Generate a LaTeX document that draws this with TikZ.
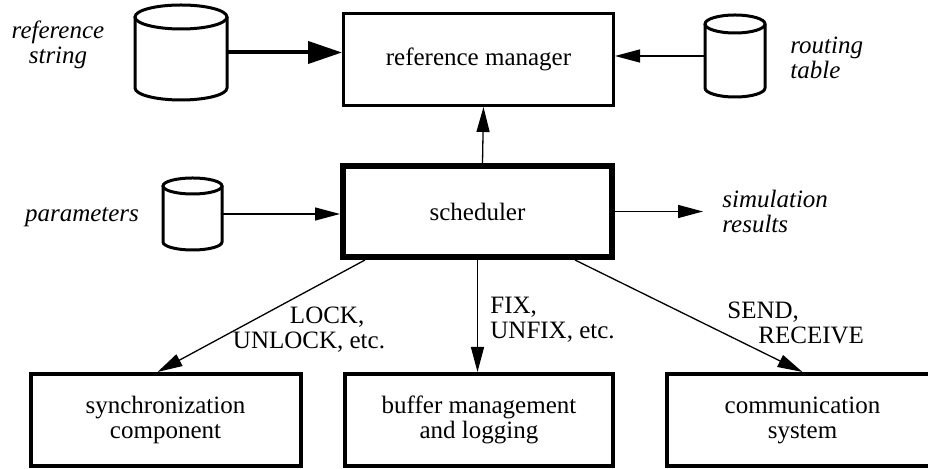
\documentclass[tikz,border=0pt]{standalone}
\usepackage{fontspec}
\setmainfont{Liberation Serif}
\usetikzlibrary{arrows.meta}

\newcommand{\fs}{\fontsize{12.5}{12.5}\selectfont}

% data store: name, centre x, centre y, width, height, half height of the ellipse
\newcommand{\datastore}[6]{%
  \node[inner sep=0pt,outer sep=0pt,minimum width=#4*0.5pt,minimum height=#5*0.5pt] (#1) at (#2,#3) {};
  \draw[line width=1.5pt] ({#2-#4/2},{#3-#5/2+#6}) -- ({#2-#4/2},{#3+#5/2-#6})
    arc[start angle=180,end angle=0,x radius=#4/2,y radius=#6] -- ({#2+#4/2},{#3-#5/2+#6});
  \draw[line width=1.5pt] (#2,{#3-#5/2+#6}) ellipse [x radius=#4/2,y radius=#6];
}

\begin{document}
\begin{tikzpicture}[x=0.5pt,y=-0.5pt,
  every node/.style={font=\fs},
  box/.style={draw,line width=1.5pt,minimum width=135pt,minimum height=46pt,align=center,inner sep=0pt},
  lbl/.style={inner sep=0pt,align=center,font=\fs\itshape},
  msg/.style={inner sep=0pt,align=left},
  flow/.style={line width=0.65pt,-{Triangle[length=12.5pt,width=6.5pt]}}]
\useasboundingbox (0,0) rectangle (928,469);

% Main components
\node[box] (mgr) at (478.5,59.5) {reference manager};
\node[box,line width=3.2pt,minimum width=134.3pt,minimum height=45.3pt] (sched) at (477.5,211.5) {scheduler};

% Lower components (the right one runs off the page)
\node[box,line width=2pt,minimum height=46pt] (sync) at (165.5,420) {synchronization\\component};
\node[box,line width=2pt,minimum width=134pt] (buf) at (479,420) {buffer management\\and logging};
\node[box,line width=2pt,minimum width=135.5pt] (comm) at (802.5,420) {communication\\system};

% Data stores
\datastore{refstr}{181}{52.5}{92}{95}{12}
\datastore{route}{735}{56}{60}{82}{9}
\datastore{params}{192.5}{214}{59}{72}{8}

% Store labels
\node[lbl] (refstrl) at (58,45) {reference\\string};
\node[lbl,anchor=west,align=left] (routel) at (790,58) {routing\\table};
\node[lbl] (paramsl) at (82,217) {parameters};
\node[lbl,anchor=west,align=left] (res) at (722,211.5) {simulation\\results};

% Operation labels
\node[msg] (lockl) at (309,330) {\hspace*{28.5pt}LOCK,\\UNLOCK, etc.};
\node[msg,anchor=west] (fixl) at (490,320) {FIX,\\UNFIX, etc.};
\node[msg,anchor=west] (sendl) at (727,323) {SEND,\\\hspace*{15.5pt}RECEIVE};

% Arrows
\draw[flow,line width=2pt,-{Triangle[length=17pt,width=11pt]}] (refstr.east) -- (refstr.east -| mgr.west);
\draw[flow] (route.west) -- (route.west -| mgr.east);
\draw[flow] ([xshift=2.5pt]sched.north) -- ([xshift=2.5pt]mgr.south);
\draw[flow] (params.east) -- (params.east -| sched.west);
\draw[flow] (sched.east) -- ([xshift=-9.5pt]res.west);
\draw[flow] ([xshift=12.5pt]sched.south west) -- ([xshift=-4pt]sync.north);
\draw[flow] (sched.south) -- (sched.south |- buf.north);
\draw[flow] ([xshift=-20pt]sched.south east) -- (comm.north);

\end{tikzpicture}
\end{document}
